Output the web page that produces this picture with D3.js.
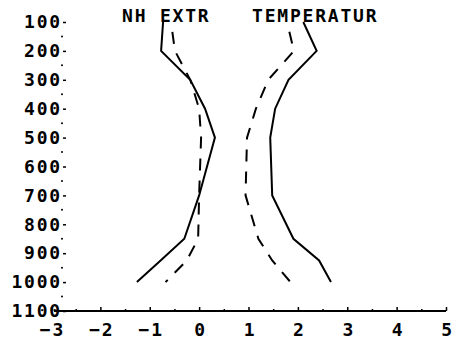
<!DOCTYPE html>
<html>
<head>
<meta charset="utf-8">
<script src="https://cdn.jsdelivr.net/npm/d3@7"></script>
<style>
  body { margin: 0; background: #fff; }
  svg { display: block; }
  text { font-family: "DejaVu Sans Mono", monospace; font-weight: bold; }
</style>
</head>
<body>
<script>
// pressure levels (hPa) and the four profiles
var levels = [100, 200, 300, 400, 500, 700, 850, 925, 1000];
var extrSolid = [-0.73, -0.77, -0.18, 0.12, 0.32, 0.0, -0.30, -0.78, -1.26];
var extrDash  = [-0.57, -0.49, -0.18, 0.0, 0.04, 0.0, -0.02, -0.25, -0.68];
var tempSolid = [2.11, 2.38, 1.81, 1.54, 1.44, 1.48, 1.91, 2.43, 2.67];
var tempDash  = [1.78, 1.92, 1.40, 1.15, 0.97, 0.94, 1.20, 1.48, 1.85];

var xTicks = [-3, -2, -1, 0, 1, 2, 3, 4, 5];
var xMinor = [-2.5, -1.5, -0.5, 0.5, 1.5, 2.5, 3.5, 4.5];
var yTicks = [100, 200, 300, 400, 500, 600, 700, 800, 900, 1000, 1100];
var yMinor = [150, 250, 350, 450, 550, 650, 750, 850, 950, 1050];
var titles = ["NH EXTR", "TEMPERATUR"];

var width = 453, height = 344;

var x = d3.scaleLinear().domain([-3, 5]).range([51, 446]);
var y = d3.scaleLinear().domain([100, 1100]).range([22, 311]);

var svg = d3.select('body').append('svg')
    .attr('width', width)
    .attr('height', height);

// x axis, ticks pointing up
var xAxis = d3.axisBottom(x).tickValues(xTicks).tickSizeInner(-4).tickSizeOuter(0).tickPadding(12);
var gx = svg.append('g')
    .attr('transform', 'translate(0,' + y(1100) + ')')
    .call(xAxis);
gx.select('.domain').attr('stroke-width', 2).attr('d', 'M' + (x(-3) + 3) + ',0H' + x(5));
gx.selectAll('.tick line').attr('stroke-width', 1.5);
gx.selectAll('text')
    .attr('fill', '#000')
    .style('font-size', '18px')
    .style('letter-spacing', '1.8px')
    .attr('dx', '1')
    .attr('dy', '0.72em');

var gxm = svg.append('g')
    .attr('transform', 'translate(0,' + y(1100) + ')')
    .call(d3.axisBottom(x).tickValues(xMinor).tickSizeInner(-2).tickSizeOuter(0).tickFormat(''));
gxm.select('.domain').remove();
gxm.selectAll('.tick line').attr('stroke-width', 1.5);

// y axis: labels with a small dash, dots half way between
var yAxis = d3.axisLeft(y).tickValues(yTicks).tickFormat(d3.format('d')).tickSize(3).tickPadding(3);
var gy = svg.append('g')
    .attr('transform', 'translate(66,0)')
    .call(yAxis);
gy.select('.domain').remove();
gy.selectAll('.tick line').attr('stroke-width', 1.5);
gy.selectAll('text')
    .attr('fill', '#000')
    .style('font-size', '18px')
    .style('letter-spacing', '1.8px')
    .attr('dx', '2');

svg.append('g').selectAll('circle')
    .data(yMinor)
    .enter().append('circle')
    .attr('cx', 62)
    .attr('cy', function(d) { return y(d); })
    .attr('r', 1)
    .attr('fill', '#000');

// titles
svg.append('text').attr('x', 122).attr('y', 22).style('font-size', '18px').style('letter-spacing', '1.8px').text(titles[0]);
svg.append('text').attr('x', 252).attr('y', 22).style('font-size', '18px').style('letter-spacing', '1.8px').text(titles[1]);

// profiles
var line = d3.line()
    .x(function(d) { return x(d.v); })
    .y(function(d) { return y(d.p); });

var series = [
  {vals: extrSolid, dash: null},
  {vals: extrDash, dash: '12,10'},
  {vals: tempSolid, dash: null},
  {vals: tempDash, dash: '12,10'}
];

series.forEach(function(s) {
  var pts = levels.map(function(p, i) { return {p: p, v: s.vals[i]}; });
  svg.append('path')
      .datum(pts)
      .attr('d', line)
      .attr('fill', 'none')
      .attr('stroke', '#000')
      .attr('stroke-width', 2)
      .attr('stroke-dasharray', s.dash)
      .attr('stroke-dashoffset', s.dash ? -10 : null);
});
</script>
</body>
</html>
